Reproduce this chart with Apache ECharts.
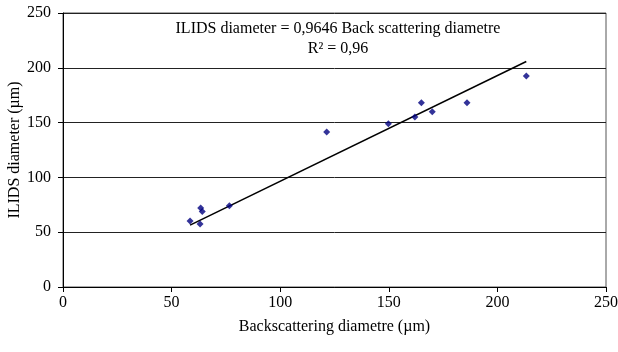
<!DOCTYPE html>
<html>
<head>
<meta charset="utf-8">
<script src="https://cdn.jsdelivr.net/npm/echarts@6/dist/echarts.min.js"></script>
<style>
  html, body { margin: 0; padding: 0; background: #fff; }
  #chart { width: 618px; height: 352px; }
</style>
</head>
<body>
<div id="chart"></div>
<script>
// Measured droplet diameters: back-scattering (x) vs ILIDS (y), µm
const backscatter = [58.5, 63.1, 63.4, 64.1, 76.6, 121.4, 149.8, 162, 165, 170, 186, 213.3];
const ilids       = [60.2, 57.5, 72.1, 69.0, 74.2, 141.4, 149.0, 155, 168, 160, 168, 192.5];

// Linear fit through the origin
const slope = 0.9646;
const r2Text = 'R² = 0,96';
const eqText = 'ILIDS diameter = 0,9646 Back scattering diametre';

const xTicks = [0, 50, 100, 150, 200, 250];
const yTicks = [0, 50, 100, 150, 200, 250];

const points = backscatter.map((x, i) => [x, ilids[i]]);
const xMin = Math.min(...backscatter);
const xMax = Math.max(...backscatter);
const fitLine = [[xMin, slope * xMin], [xMax, slope * xMax]];

const font = 'Liberation Serif';
const fs = 16;
const chart = echarts.init(document.getElementById('chart'));
chart.setOption({
  animation: false,
  backgroundColor: '#fff',
  textStyle: { fontFamily: font },
  grid: {
    left: 63, right: 12, top: 13, bottom: 65,
    outerBoundsMode: 'none', containLabel: false,
    show: true, borderColor: '#555', borderWidth: 1
  },
  xAxis: {
    type: 'value', min: xTicks[0], max: xTicks[xTicks.length - 1], interval: 50,
    name: 'Backscattering diametre (µm)', nameLocation: 'middle', nameGap: 32,
    nameMoveOverlap: false,
    nameTextStyle: { fontFamily: font, fontSize: fs, color: '#000' },
    axisLine: { show: true, onZero: false, lineStyle: { color: '#000', width: 1 } },
    axisTick: { show: true, inside: false, length: 5, lineStyle: { color: '#000' } },
    axisLabel: { fontFamily: font, fontSize: fs, color: '#000', margin: 8 },
    splitLine: { show: false }
  },
  yAxis: {
    type: 'value', min: yTicks[0], max: yTicks[yTicks.length - 1], interval: 50,
    name: 'ILIDS diameter (µm)', nameLocation: 'middle', nameGap: 40, nameRotate: 90,
    nameMoveOverlap: false,
    nameTextStyle: { fontFamily: font, fontSize: fs, color: '#000' },
    axisLine: { show: true, onZero: false, lineStyle: { color: '#000', width: 1 } },
    axisTick: { show: true, inside: false, length: 5, lineStyle: { color: '#000' } },
    axisLabel: { fontFamily: font, fontSize: fs, color: '#000', margin: 12 },
    splitLine: { show: true, lineStyle: { color: '#222', width: 1 } }
  },
  series: [
    {
      type: 'scatter',
      data: points,
      symbol: 'diamond',
      symbolSize: 7,
      itemStyle: { color: '#000080' },
      z: 3
    },
    {
      type: 'line',
      data: fitLine,
      symbol: 'none',
      lineStyle: { color: '#000', width: 1.5 },
      z: 2
    }
  ],
  graphic: [
    {
      type: 'text', x: 338, y: 21,
      style: { text: eqText, font: fs + 'px "Liberation Serif"', fill: '#000', align: 'center', verticalAlign: 'top' }
    },
    {
      type: 'text', x: 338, y: 41,
      style: { text: r2Text, font: fs + 'px "Liberation Serif"', fill: '#000', align: 'center', verticalAlign: 'top' }
    }
  ]
});
</script>
</body>
</html>
